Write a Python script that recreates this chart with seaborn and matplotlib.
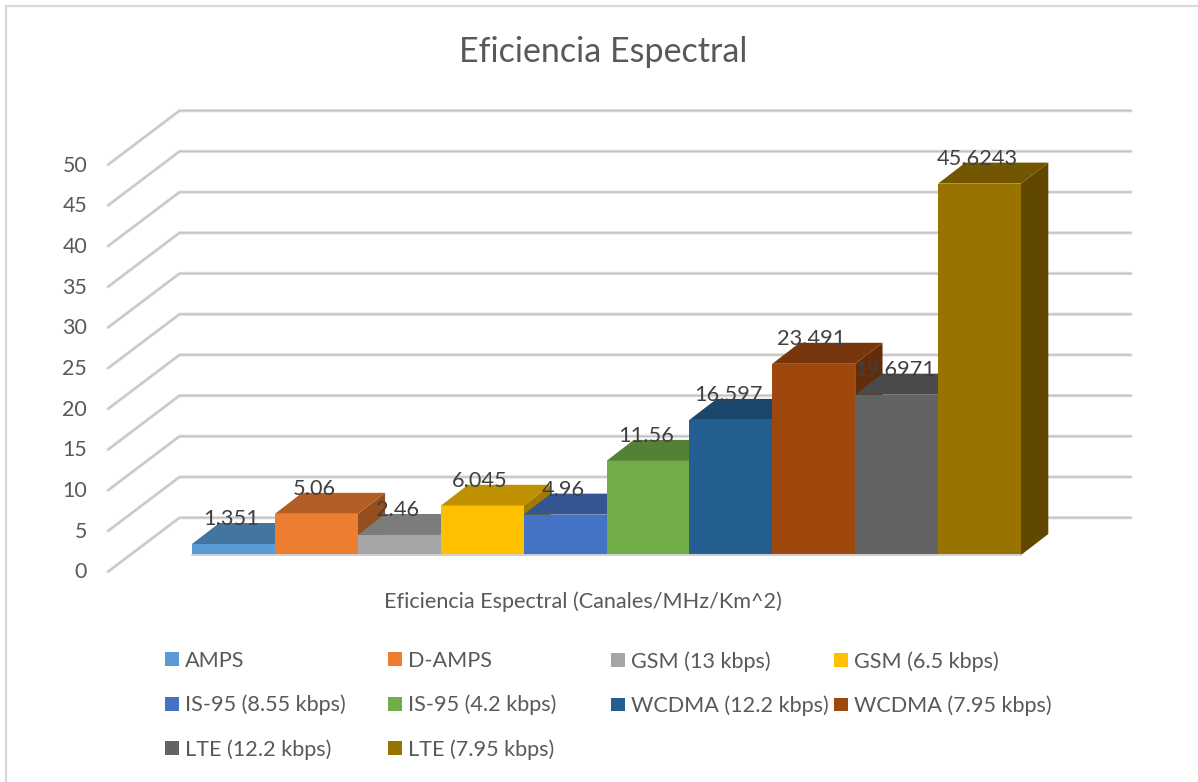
import matplotlib
matplotlib.use("Agg")
import matplotlib.pyplot as plt
from matplotlib.lines import Line2D
from matplotlib.patches import Patch, Polygon
import numpy as np
import pandas as pd
import seaborn as sns

# Chart content
title = "Eficiencia Espectral"
axis_label = "Eficiencia Espectral (Canales/MHz/Km^2)"
systems = ["AMPS", "D-AMPS", "GSM (13 kbps)", "GSM (6.5 kbps)", "IS-95 (8.55 kbps)",
           "IS-95 (4.2 kbps)", "WCDMA (12.2 kbps)", "WCDMA (7.95 kbps)",
           "LTE (12.2 kbps)", "LTE (7.95 kbps)"]
efficiency = [1.351, 5.06, 2.46, 6.045, 4.96, 11.56, 16.597, 23.491, 19.6971, 45.6243]
colors = ["#5B9BD5", "#ED7D31", "#A5A5A5", "#FFC000", "#4472C4",
          "#70AD47", "#255E91", "#9E480E", "#636363", "#997300"]
y_ticks = [0, 5, 10, 15, 20, 25, 30, 35, 40, 45, 50]

FONT = ["Lato", "DejaVu Sans"]
TEXT = "#595959"
W, H = 1198, 782

sns.set_theme(style="white")
plt.rcParams["font.family"] = FONT

fig = plt.figure(figsize=(W / 100, H / 100), dpi=100, facecolor="white")

# Plot box in pixels, with the scale of one category and one value unit
left, right, top, bottom = 108, 1131, 100, 572
px_cat, px_val = 82.9, 8.14
xlim = (-0.5 + (left - 192) / px_cat, -0.5 + (right - 192) / px_cat)
ylim = ((555 - bottom) / px_val, (555 - top) / px_val)
ax = fig.add_axes([left / W, 1 - bottom / H, (right - left) / W, (bottom - top) / H])

# Oblique projection offsets of the bars and of the back wall
bar_dx, bar_dy = 27.3 / px_cat, 21 / px_val
wall_dx, wall_dy = 71.5 / px_cat, 54 / px_val
floor_drop = (555 - 571.7) / px_val

# Gridlines run along the side wall and then across the back wall
for v in y_ticks:
    xs = [xlim[0], xlim[0] + wall_dx, xlim[1]]
    y0 = v + floor_drop
    ys = [y0, y0 + wall_dy, y0 + wall_dy]
    ax.plot(xs, ys, color="#e0e0e0", lw=2.4, solid_capstyle="round", zorder=1, clip_on=False)
    ax.plot(xs, ys, color="#c2c2c2", lw=1.0, solid_capstyle="round", zorder=1, clip_on=False)

# Front faces of the bars
df = pd.DataFrame({"system": systems, "efficiency": efficiency})
sns.barplot(data=df, x="system", y="efficiency", hue="system", order=systems,
            hue_order=systems, palette=colors, saturation=1, width=1, dodge=False,
            legend=False, ax=ax, zorder=3, linewidth=0)
ax.set_xlim(xlim)
ax.set_ylim(ylim)


def shade(color, factor):
    return tuple(c * factor for c in matplotlib.colors.to_rgb(color))


# Top and side faces, added left to right so that each bar overlaps its neighbour's side
for i, (v, c) in enumerate(zip(efficiency, colors)):
    x0, x1 = i - 0.5, i + 0.5
    ax.add_patch(Polygon([(x1, 0), (x1 + bar_dx, bar_dy), (x1 + bar_dx, v + bar_dy), (x1, v)],
                         closed=True, fc=shade(c, 0.63), ec="none", zorder=2))
    ax.add_patch(Polygon([(x0, v), (x0 + bar_dx, v + bar_dy), (x1 + bar_dx, v + bar_dy), (x1, v)],
                         closed=True, fc=shade(c, 0.75), ec="none", zorder=2))
    ax.annotate(f"{v:g}", (i, v), xytext=(-1.5, 18), textcoords="offset points",
                ha="center", va="center", fontsize=15.7, color="#404040", zorder=5)

# Pale edge along the base of the bars
ax.plot([-0.5, len(systems) - 0.5], [0, 0], color="#d0d0d0", lw=1.4, zorder=4)

ax.set_xlabel(axis_label, fontsize=15.6, color=TEXT)
ax.xaxis.set_label_coords((583 - left) / (right - left), -(602 - bottom) / (bottom - top))
ax.xaxis.label.set_verticalalignment("center")
ax.set_ylabel("")
ax.set_xticks([])
# Tick labels sit at the front edge of the side wall
ax.set_yticks(np.array(y_ticks) + floor_drop + 1.2 / px_val, [str(t) for t in y_ticks])
ax.tick_params(axis="y", length=0, pad=15, labelsize=15.4, labelcolor=TEXT)
for spine in ax.spines.values():
    spine.set_visible(False)
ax.patch.set_visible(False)
ax.set_title(title, fontsize=24.5, color=TEXT, va="center", pad=0,
             x=(603 - left) / (right - left), y=(bottom - 51.5) / (bottom - top))

# Legend: four equally spaced columns filled row by row
handles = [Patch(fc=c, ec="none", label=s) for s, c in zip(systems, colors)]
for col in range(4):
    fig.legend(handles=handles[col::4], loc="upper left",
               bbox_to_anchor=((165 + 223 * col) / W, 1 - 651 / H),
               frameon=False, fontsize=15.6, labelcolor=TEXT, handlelength=0.645,
               handleheight=0.6, handletextpad=0.28, borderpad=0, borderaxespad=0,
               labelspacing=1.1)

# Chart frame, visible along the top and left edges
frame = dict(color="#d9d9d9", lw=1.6, transform=fig.transFigure)
fig.add_artist(Line2D([6 / W, 1], [1 - 6 / H, 1 - 6 / H], **frame))
fig.add_artist(Line2D([6 / W, 6 / W], [0, 1 - 6 / H], **frame))

fig.savefig("out.png", dpi=100)
